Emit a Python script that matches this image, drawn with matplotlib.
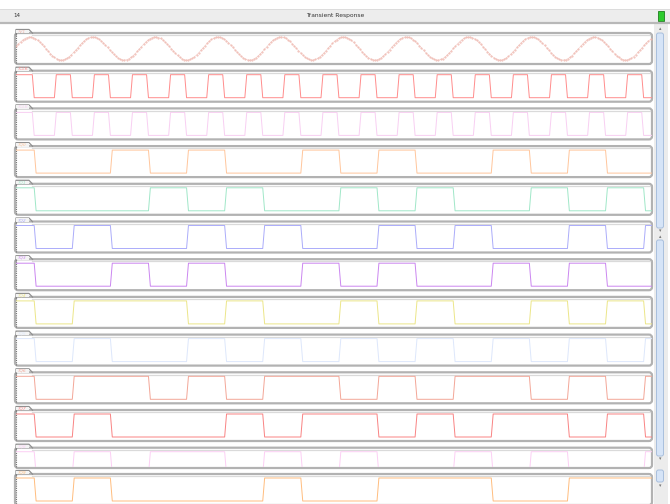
import matplotlib
matplotlib.use("Agg")
import matplotlib.pyplot as plt
import numpy as np
from matplotlib.patches import Rectangle, FancyBboxPatch

# Transient response viewer: one sine source, one clock and a bank of
# clocked logic outputs, each in its own strip.

W, H = 670, 504

# time base, in clock periods
t_end = 16.69          # visible span
clk_high = 0.42        # clock high fraction of a period
t_delay = 0.05         # output delay after the clock's falling edge
t_ramp = 0.05          # rise / fall time

# sine source
sine_period = 1.646    # in clock periods
sine_phase = 0.05

# logic level held in each clock cycle (cycle 0 = before the first falling edge)
labels = ["?V1", "?CLK", "?CLK", "?Q0", "?Q1", "?Q2", "?Q3",
          "?Q4", "?Q5", "?Q6", "?Q7", "?Q8", "?Q9"]
colors = ["#eeb4ab", "#ff8c8c", "#f8cff2", "#ffc69c", "#a0e7c8", "#abacfa",
          "#cb86f0", "#ece689", "#dde7fb", "#f3a697", "#f98383", "#fccff4",
          "#ffbd7e"]
q0 = [1, 0, 0, 1, 0, 1, 0, 0, 1, 0, 1, 0, 0, 1, 0, 1, 0, 0]
q1 = [1, 0, 0, 0, 1, 0, 1, 0, 0, 1, 0, 1, 0, 0, 1, 0, 1, 0]
q2 = [1, 0, 1, 0, 0, 1, 0, 1, 0, 0, 1, 0, 1, 0, 0, 1, 0, 1]
q3 = [1, 0, 0, 1, 0, 1, 0, 0, 1, 0, 1, 0, 0, 1, 0, 1, 0, 0]
q4 = [1, 0, 1, 1, 1, 0, 1, 0, 0, 1, 0, 1, 0, 0, 1, 0, 1, 0]
q5 = [1, 0, 1, 0, 0, 1, 0, 1, 0, 1, 0, 1, 0, 1, 0, 1, 0, 1]
q6 = [1, 0, 1, 1, 0, 1, 0, 1, 1, 0, 1, 0, 1, 1, 0, 1, 0, 1]
q7 = [1, 0, 1, 0, 0, 0, 1, 0, 1, 1, 0, 1, 0, 1, 1, 0, 1, 0]
q8 = [1, 0, 1, 0, 1, 1, 0, 1, 0, 1, 0, 0, 1, 0, 1, 0, 0, 1]
q9 = [1, 0, 1, 0, 0, 0, 0, 1, 0, 0, 1, 1, 1, 0, 0, 1, 1, 1]
logic = [q0, q1, q2, q3, q4, q5, q6, q7, q8, q9]


def clock_wave():
    t, v = [0.0], [1.0]
    k = 0
    while k < t_end:
        t += [k + clk_high, k + clk_high + t_ramp, k + 1, k + 1 + t_ramp]
        v += [1, 0, 0, 1]
        k += 1
    return np.array(t), np.array(v, dtype=float)


def logic_wave(states):
    t, v = [0.0], [states[0]]
    for k in range(len(states) - 1):
        if states[k + 1] != states[k]:
            e = k + clk_high + t_delay
            t += [e, e + t_ramp]
            v += [states[k], states[k + 1]]
    t.append(t_end)
    v.append(states[-1])
    return np.array(t), np.array(v, dtype=float)


fig = plt.figure(figsize=(W / 100, H / 100), dpi=100)
bg = fig.add_axes([0, 0, 1, 1])
bg.set_xlim(0, W)
bg.set_ylim(H, 0)
bg.axis("off")

# title bar
bg.add_patch(Rectangle((0, 9), W, 13, facecolor="#ededed", edgecolor="none"))
bg.plot([0, W], [9, 9], color="#d9d9d9", lw=0.6)
bg.plot([0, W], [22.5, 22.5], color="#b8b8b8", lw=1.6)
bg.text(335, 15.5, "Transient Response", fontsize=4.3, ha="center",
        va="center", color="#333333")
bg.text(13, 15.5, "14", fontsize=4, ha="left", va="center", color="#333333")
bg.add_patch(Rectangle((657.5, 11), 6.5, 10, facecolor="#2ecb2e",
                       edgecolor="#1d7d1d", lw=0.6))

# scroll bars on the right
bg.add_patch(Rectangle((654, 24), 14, H - 24, facecolor="#ececec",
                       edgecolor="none"))
for y_a, y_b in [(33, 228), (240, 456), (470, 482)]:
    bg.add_patch(FancyBboxPatch((656.5, y_a), 7, y_b - y_a,
                                boxstyle="round,pad=0,rounding_size=2",
                                facecolor="#d6e4f7", edgecolor="#a9bfdd",
                                lw=0.7))
for y_a, ch in [(29, "\u25b4"), (231, "\u25be"), (237, "\u25b4"),
                (459, "\u25be"), (486, "\u25be")]:
    bg.text(660, y_a, ch, fontsize=3.5, ha="center", va="center",
            color="#777777")

x_left, x_right = 16.3, 652.0
tops = [28 + 37.7 * i for i in range(12)] + [469.0]
n = len(labels)

for i in range(n):
    y0 = tops[i]
    y_bot = y0 + 36
    if i == n - 2:
        y_bot = tops[-1] - 1.0

    # strip frame
    bg.add_patch(FancyBboxPatch((15, y0 + 5), 637, y_bot - y0 - 5,
                                boxstyle="round,pad=0,rounding_size=3",
                                facecolor="white", edgecolor="#b2b2b2",
                                lw=1.6, zorder=1 + 2 * i))
    bg.plot([32, 650], [y0 + 7.2, y0 + 7.2], color="#dadada", lw=0.9,
            zorder=1 + 2 * i)
    bg.plot([16, 16, 29, 32.5], [y0 + 7, y0 + 1.5, y0 + 1.5, y0 + 5.2],
            color="#909090", lw=0.9, zorder=1 + 2 * i)
    bg.add_patch(Rectangle((16.3, y0 + 1.9), 12.5, 3.5, facecolor="#f4f4f4",
                           edgecolor="none", zorder=1 + 2 * i))
    bg.plot([15.5, 15.5], [y0 + 5, y_bot], color="#747474", lw=0.8,
            dashes=(1, 1), zorder=2 + 2 * i)
    bg.text(17, y0 + 3.7, labels[i], fontsize=3.2, color=colors[i],
            ha="left", va="center", style="italic", zorder=2 + 2 * i)

    # signal axes: level 1 sits 9 px below the strip top, level 0 at 32 px
    ax_top, ax_bot = y0 + 8, min(y0 + 34, y_bot - 1)
    v_top = 1 + (y0 + 9 - ax_top) / 23
    v_bot = (y0 + 32 - ax_bot) / 23
    ax = fig.add_axes([x_left / W, 1 - ax_bot / H,
                       (x_right - x_left) / W, (ax_bot - ax_top) / H])
    ax.set_zorder(2 + 2 * i)
    ax.patch.set_visible(False)
    ax.set_xlim(0, t_end)
    ax.set_ylim(v_bot, v_top)
    ax.axis("off")

    if i == 0:
        t = np.linspace(0, t_end, 900)
        v = 0.5 + 0.5 * np.sin(2 * np.pi * (t + sine_phase) / sine_period)
        ax.plot(t, v, color=colors[i], lw=0.5, alpha=0.5)
        ax.plot(t[::3], v[::3], ".", color=colors[i], ms=0.9)
    elif i in (1, 2):
        t, v = clock_wave()
        ax.plot(t, v, color=colors[i], lw=0.7)
    else:
        t, v = logic_wave(logic[i - 3])
        ax.plot(t, v, color=colors[i], lw=0.7)

fig.savefig("out.png", dpi=100)
